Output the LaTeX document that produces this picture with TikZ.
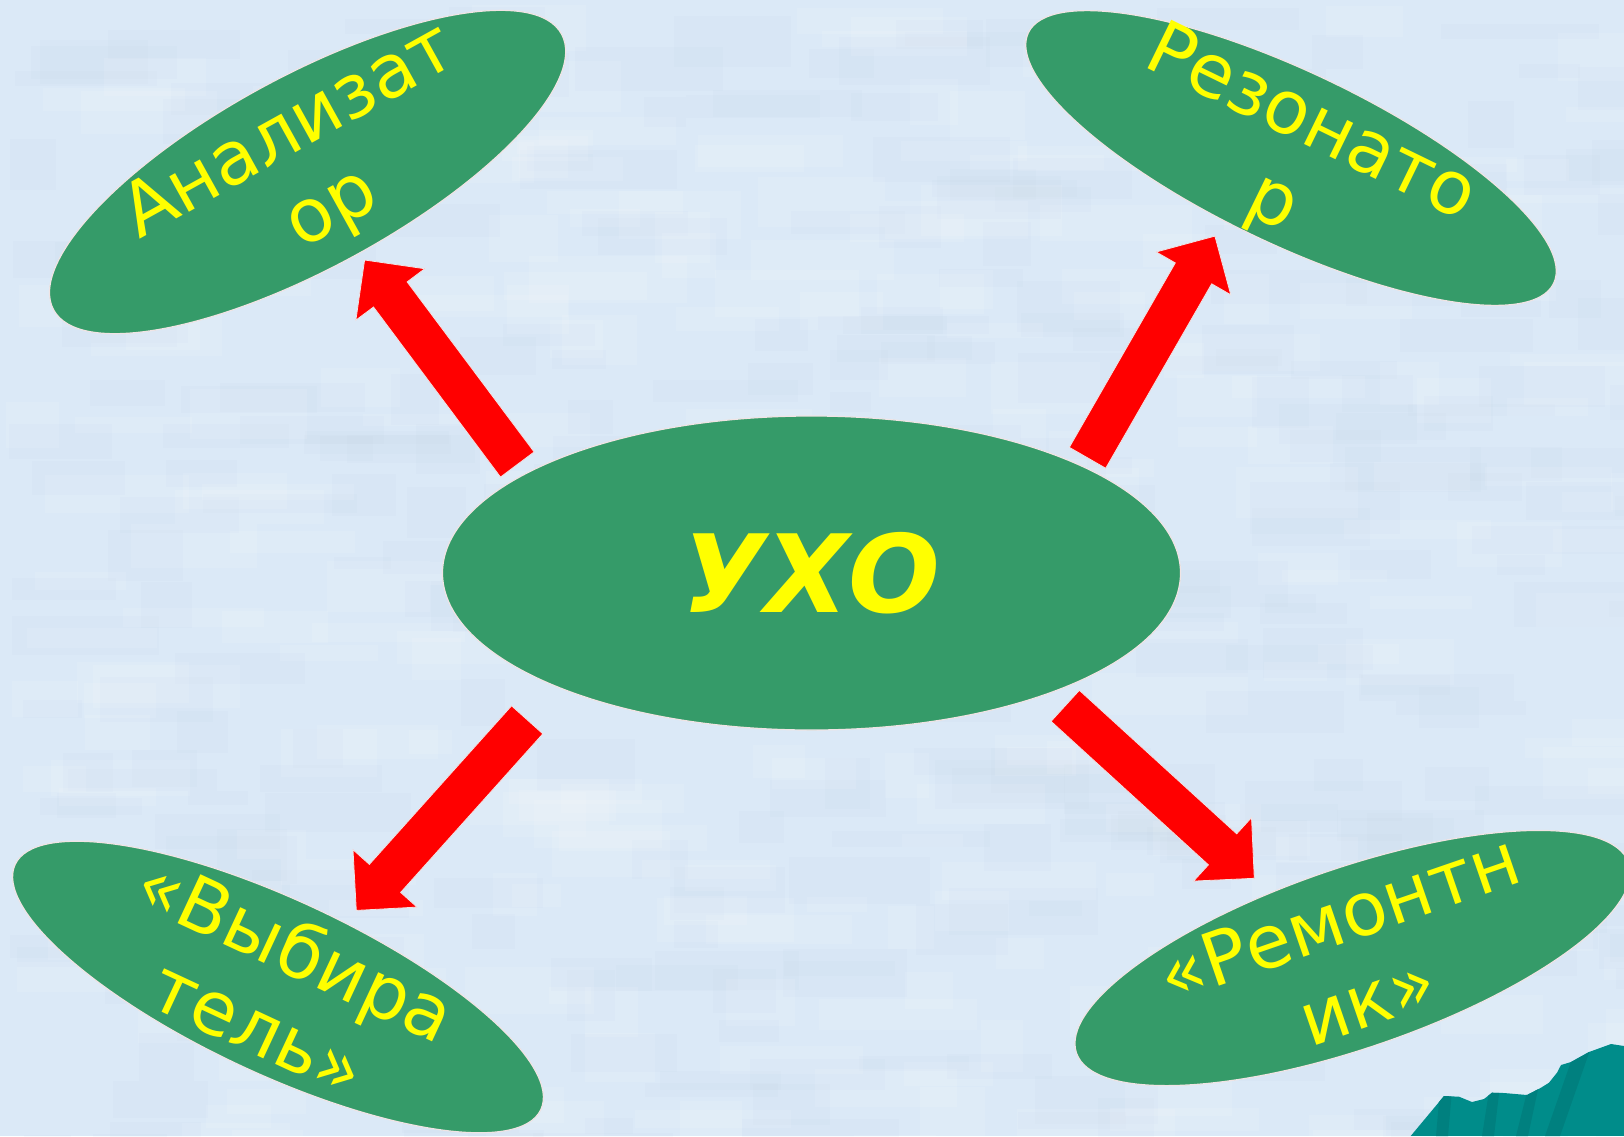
\documentclass[tikz,border=0pt]{standalone}
\usepackage{fontspec}
\setmainfont{DejaVu Sans}
\usetikzlibrary{shapes.geometric,calc}
\definecolor{bgbase}{RGB}{219,233,247}
\definecolor{bgdark}{RGB}{185,202,224}
\definecolor{bubblegreen}{RGB}{53,155,105}
\definecolor{bubbleedge}{RGB}{240,228,228}
\definecolor{txtyellow}{RGB}{255,255,0}
\definecolor{arrowred}{RGB}{255,0,0}
\definecolor{tealA}{RGB}{0,140,138}
\definecolor{tealB}{RGB}{0,128,127}
\tikzset{
  bubble/.style={ellipse, fill=bubblegreen, draw=bubbleedge, line width=1.2pt, inner sep=0pt},
  lbl/.style={text=txtyellow, align=center, inner sep=0pt, font=\fontsize{74}{87}\selectfont},
  bigarrow/.style={fill=arrowred, draw=bubbleedge, line width=0.8pt, line join=miter}
}
\newcommand\blockarrow[2]{%
  \path ($(#2)!43pt!(#1)$) coordinate (#1n);
  \filldraw[bigarrow] ($(#1)!21pt!90:(#2)$) -- ($(#1n)!21pt!90:(#2)$) -- ($(#1n)!43pt!90:(#2)$) -- (#2) -- ($(#1n)!43pt!-90:(#2)$) -- ($(#1n)!21pt!-90:(#2)$) -- ($(#1)!21pt!-90:(#2)$) -- cycle;}
\begin{document}
\begin{tikzpicture}[x=1pt,y=-1pt]
\useasboundingbox (0,0) rectangle (1624,1136);
\clip (0,0) rectangle (1624,1136);
% background texture
\fill[bgbase] (0,0) rectangle (1624,1136);
\pgfmathsetseed{42}
\foreach \i in {1,...,320}{
  \pgfmathsetmacro\xx{rnd*1624}
  \pgfmathsetmacro\yy{rnd*1136}
  \pgfmathsetmacro\ww{40+rnd*120}
  \pgfmathsetmacro\hh{12+rnd*40}
  \fill[bgdark, opacity=0.07] (\xx,\yy) rectangle ++(\ww,\hh);
}
\foreach \i in {1,...,260}{
  \pgfmathsetmacro\xx{rnd*1624}
  \pgfmathsetmacro\yy{rnd*1136}
  \pgfmathsetmacro\ww{40+rnd*120}
  \pgfmathsetmacro\hh{12+rnd*40}
  \fill[white, opacity=0.1] (\xx,\yy) rectangle ++(\ww,\hh);
}
% teal corner shape
\begin{scope}
\path[clip] (1410.7,1136) -- (1444,1096) -- (1459,1096.7) -- (1472,1102) -- (1484,1099) -- (1492,1092.7) -- (1504,1093) -- (1527,1095) -- (1541,1087.7) -- (1549,1082.7) -- (1557,1072.7) -- (1561,1065) -- (1571,1062) -- (1589,1052) -- (1611,1044) -- (1624,1046) -- (1624,1136) -- cycle;
\fill[tealA] (1400,1030) rectangle (1624,1136);
\fill[tealB] (1440,1090) -- (1452,1090) -- (1448,1136) -- (1436,1136) -- cycle;
\fill[tealB] (1490,1085) -- (1500,1085) -- (1494,1136) -- (1482,1136) -- cycle;
\fill[tealB] (1530,1080) -- (1540,1080) -- (1528,1136) -- (1516,1136) -- cycle;
\fill[tealB] (1575,1050) -- (1590,1050) -- (1560,1136) -- (1545,1136) -- cycle;
\end{scope}
% ellipses
\node[bubble, minimum width=738pt, minimum height=314pt] (uxo) at (811.5,573)
  {\textcolor{txtyellow}{\fontsize{108}{120}\selectfont\bfseries\itshape УХО}};
\node[bubble, minimum width=578pt, minimum height=192pt, rotate=28.5] (tl) at (307.6,172) {};
\node[bubble, minimum width=582pt, minimum height=172pt, rotate=-25.5] (tr) at (1291,158) {};
\node[bubble, minimum width=580pt, minimum height=174pt, rotate=-25] (bl) at (278,987) {};
\node[bubble, minimum width=584pt, minimum height=180pt, rotate=19] (br) at (1352.6,958) {};
% labels
\node[lbl, rotate=29] (tltext) at ([xshift=4pt]tl.center) {Анализат\\ор};
\node[lbl, rotate=-26] (trtext) at ([yshift=-7pt]tr.center) {Резонато\\р};
\node[lbl, rotate=-25] (bltext) at (bl.center) {«Выбира\\тель»};
\node[lbl, rotate=19] (brtext) at (br.center) {«Ремонтн\\ик»};
% arrows
\coordinate (a1s) at (517.3,464.5);  \coordinate (a1e) at (364.6,260);
\coordinate (a2s) at (1087.5,457.8); \coordinate (a2e) at (1214.9,236.1);
\coordinate (a3s) at (527.2,719.8);  \coordinate (a3e) at (356.3,910.4);
\coordinate (a4s) at (1065.2,705.8); \coordinate (a4e) at (1254.3,878.3);
\blockarrow{a1s}{a1e}
\blockarrow{a2s}{a2e}
\blockarrow{a3s}{a3e}
\blockarrow{a4s}{a4e}
\end{tikzpicture}
\end{document}
